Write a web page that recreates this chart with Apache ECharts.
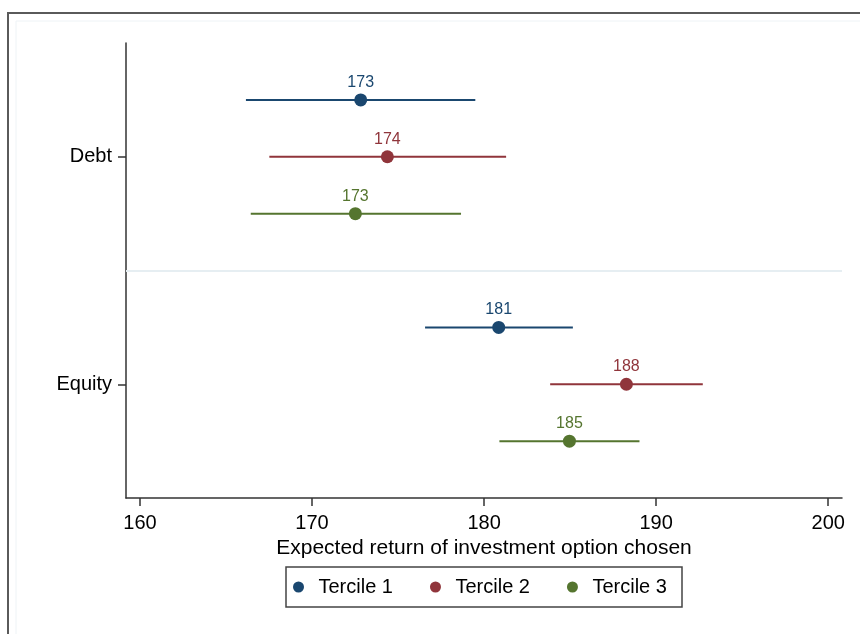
<!DOCTYPE html>
<html>
<head>
<meta charset="utf-8">
<script src="https://cdn.jsdelivr.net/npm/echarts@6/dist/echarts.min.js"></script>
<style>html,body{margin:0;padding:0;background:#fff}#c{width:860px;height:634px}</style>
</head>
<body>
<div id="c"></div>
<script>
// ---- data ----
var categories = ['Equity', 'Debt'];           // y positions 0 and 1
var terciles = ['Tercile 1', 'Tercile 2', 'Tercile 3'];
var colors = ['#1a476f', '#90353b', '#55752f'];
// values ordered [Debt, Equity]
var meanT1 = [172.83, 180.85];
var meanT2 = [174.38, 188.27];
var meanT3 = [172.52, 184.96];
var loT1 = [166.16, 176.57];
var loT2 = [167.52, 183.84];
var loT3 = [166.44, 180.89];
var hiT1 = [179.49, 185.16];
var hiT2 = [181.28, 192.71];
var hiT3 = [178.66, 189.03];
var xTicks = [160, 170, 180, 190, 200];
var groupNames = ['Debt', 'Equity'];

var means = [meanT1, meanT2, meanT3];
var los = [loT1, loT2, loT3];
var his = [hiT1, hiT2, hiT3];
var offsets = [0.25, 0, -0.25];
function groupPos(name) { return categories.indexOf(name); }

var FONT = 'Liberation Sans';
var series = [];
terciles.forEach(function (t, i) {
  var bars = [], pts = [];
  groupNames.forEach(function (g, j) {
    var y = groupPos(g) + offsets[i];
    bars.push([los[i][j], his[i][j], y]);
    pts.push([means[i][j], y]);
  });
  series.push({
    type: 'custom', name: t, data: bars, z: 2,
    renderItem: function (params, api) {
      var a = api.coord([api.value(0), api.value(2)]);
      var b = api.coord([api.value(1), api.value(2)]);
      return { type: 'line', shape: { x1: a[0], y1: a[1], x2: b[0], y2: b[1] },
        style: { stroke: colors[i], lineWidth: 2 } };
    },
    encode: { x: [0, 1], y: 2 }
  });
  series.push({
    type: 'scatter', name: t, data: pts, symbolSize: 13, z: 3,
    itemStyle: { color: colors[i], opacity: 1 },
    label: { show: true, position: 'top', distance: 3, color: colors[i],
      fontFamily: FONT, fontSize: 16,
      formatter: function (p) { return Math.round(p.value[0]).toString(); } }
  });
});
series[0].markLine = {
  silent: true, symbol: 'none', label: { show: false },
  lineStyle: { color: '#e6eef2', width: 2, type: 'solid' },
  data: [{ yAxis: 0.5 }]
};

var chart = echarts.init(document.getElementById('c'), null, { renderer: 'canvas' });
chart.setOption({
  animation: false,
  backgroundColor: '#fff',
  grid: { left: 126, right: 18, top: 43, bottom: 136 },
  xAxis: {
    type: 'value', min: 159.19, max: 200.8,
    name: 'Expected return of investment option chosen',
    nameLocation: 'middle', nameGap: 39,
    nameTextStyle: { fontFamily: FONT, fontSize: 21, color: '#000' },
    axisLine: { show: true, onZero: false, lineStyle: { color: '#333', width: 1.5 } },
    axisTick: { show: true, length: 8, customValues: xTicks, lineStyle: { color: '#333', width: 1.5 } },
    axisLabel: { customValues: xTicks, margin: 15, fontFamily: FONT, fontSize: 20, color: '#000' },
    splitLine: { show: false }
  },
  yAxis: {
    type: 'value', min: -0.5, max: 1.5,
    axisLine: { show: true, onZero: false, lineStyle: { color: '#333', width: 1.5 } },
    axisTick: { show: true, length: 8, customValues: [0, 1], lineStyle: { color: '#333', width: 1.5 } },
    axisLabel: { customValues: [0, 1], margin: 14, fontFamily: FONT, fontSize: 20, color: '#000',
      formatter: function (v) { return categories[Math.round(v)]; } },
    splitLine: { show: false }
  },
  legend: {
    data: terciles.map(function (t, i) { return { name: t, icon: 'circle', itemStyle: { color: colors[i] } }; }),
    left: 293, top: 577, padding: 0, itemGap: 37,
    itemWidth: 30, itemHeight: 11,
    textStyle: { fontFamily: FONT, fontSize: 20, color: '#000' }
  },
  graphic: [
    { type: 'rect', shape: { x: 8, y: 13, width: 900, height: 700 },
      style: { fill: 'none', stroke: '#5a5a5a', lineWidth: 2 }, silent: true },
    { type: 'rect', shape: { x: 16, y: 21, width: 900, height: 700 },
      style: { fill: 'none', stroke: '#eef3f6', lineWidth: 1 }, silent: true },
    { type: 'rect', shape: { x: 286, y: 567, width: 396, height: 40 },
      style: { fill: 'none', stroke: '#444', lineWidth: 1.5 }, silent: true }
  ],
  series: series
});
</script>
</body>
</html>
